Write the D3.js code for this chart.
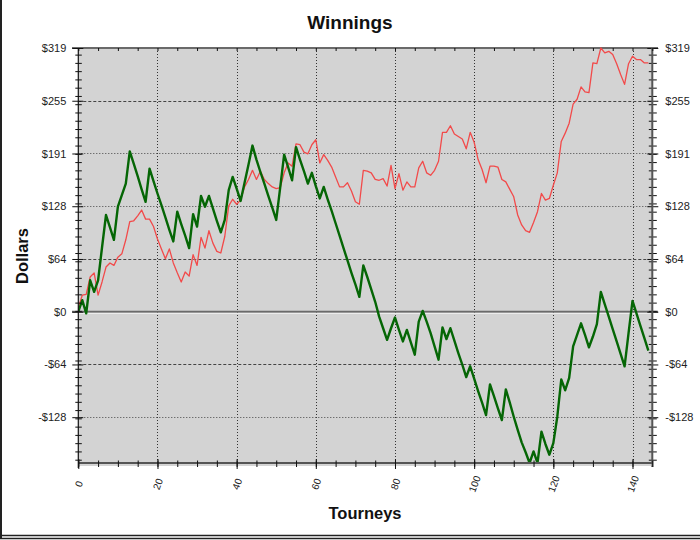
<!DOCTYPE html>
<html>
<head>
<meta charset="utf-8">
<script src="https://cdn.jsdelivr.net/npm/d3@7"></script>
<style>
  html, body { margin: 0; padding: 0; background: #fff; }
  svg { display: block; font-family: "Liberation Sans", Arial, sans-serif; }
</style>
</head>
<body>
<svg id="chart" width="700" height="540"></svg>
<script>
// ---------- data ----------
const tourneys = d3.range(0, 145); // 0..144
const greenSeries = [0,14,-2,38,24,38,78,117,102,87,127,141,155,194,179,164,148,133,173,158,
  143,129,114,99,85,121,106,92,77,118,103,140,127,140,125,110,96,111,147,163,
  149,134,156,178,201,184,169,155,140,126,111,150,190,175,159,199,184,170,155,168,
  152,137,151,136,122,107,92,77,62,47,33,18,56,42,27,12,-6,-20,-34,-20,
  -7,-22,-36,-22,-37,-52,-12,1,-12,-26,-42,-58,-19,-33,-20,-35,-50,-64,-79,-66,
  -81,-96,-110,-125,-88,-102,-117,-131,-94,-110,-127,-143,-158,-170,-183,-169,-183,-145,-160,-173,
  -159,-127,-82,-95,-80,-42,-28,-14,-28,-43,-30,-15,24,9,-6,-21,-36,-51,-66,-26,
  13,-2,-17,-32,-47];
const redSeries = [5,20,21,42,47,20,36,54,59,56,66,70,87,109,110,116,123,112,112,103,
  88,76,64,76,59,47,36,48,43,69,56,90,77,98,83,73,71,91,128,136,
  130,135,151,160,171,160,170,160,155,151,149,150,168,180,176,203,202,193,191,202,
  208,180,190,183,175,163,151,151,156,146,133,130,171,170,168,160,159,161,152,177,
  149,167,147,157,151,151,174,182,168,165,171,182,217,217,225,215,212,209,197,217,
  205,184,172,156,176,176,175,160,157,148,139,117,105,98,96,108,121,143,135,137,
  153,168,206,216,228,251,257,272,266,265,301,300,319,313,315,311,300,287,275,300,
  309,305,305,301,301];
const yTickValues = [-127.6, -63.8, 0, 63.8, 127.6, 191.4, 255.2, 319];
const yTickLabels = ["-$128", "-$64", "$0", "$64", "$128", "$191", "$255", "$319"];
const xTickValues = [0, 20, 40, 60, 80, 100, 120, 140];
const xTickLabels = ["0", "20", "40", "60", "80", "100", "120", "140"];
const titleText = "Winnings";
const xTitle = "Tourneys";
const yTitle = "Dollars";

// ---------- layout ----------
const svg = d3.select("#chart");
const L = 78.3, R = 652.3, T = 48, B = 463;
const x = d3.scaleLinear().domain([0, 145]).range([L, R]);
const y = d3.scaleLinear().domain([-183, 319]).range([B, T]);
const yMinor = d3.range(-179, 319, 10);
const xMinor = d3.range(0, 146, 5);
const fmtY = d => yTickLabels[yTickValues.indexOf(d)];
const fmtX = d => xTickLabels[xTickValues.indexOf(d)];

// outer frame (left + bottom)
svg.append("line").attr("x1", 1).attr("x2", 1).attr("y1", 0).attr("y2", 539)
  .attr("stroke", "#222").attr("stroke-width", 2);
svg.append("line").attr("x1", 0).attr("x2", 700).attr("y1", 535.5).attr("y2", 535.5)
  .attr("stroke", "#222").attr("stroke-width", 1.5);
svg.append("line").attr("x1", 0).attr("x2", 700).attr("y1", 538.5).attr("y2", 538.5)
  .attr("stroke", "#222").attr("stroke-width", 1.5);

// plot background
svg.append("rect").attr("x", L).attr("y", T).attr("width", R - L).attr("height", B - T)
  .attr("fill", "#d3d3d3");

// vertical grid
svg.append("g").selectAll("line").data(xTickValues.filter(d => d > 0)).join("line")
  .attr("x1", d => Math.round(x(d)) + 0.5).attr("x2", d => Math.round(x(d)) + 0.5)
  .attr("y1", T).attr("y2", B)
  .attr("stroke", "#333").attr("stroke-width", 1).attr("stroke-dasharray", "1,2");

// horizontal grid
const dashFor = {"-127.6": "1,2", "-63.8": "3,2", "63.8": "3,2", "127.6": "1,2", "191.4": "1,2", "255.2": "3,2"};
svg.append("g").selectAll("line").data(yTickValues.filter(d => d !== 0 && d !== 319)).join("line")
  .attr("x1", L).attr("x2", R)
  .attr("y1", d => Math.round(y(d)) + 0.5).attr("y2", d => Math.round(y(d)) + 0.5)
  .attr("stroke", "#444").attr("stroke-width", 1)
  .attr("stroke-dasharray", d => dashFor[String(d)]);

// zero line & top line (solid)
[0, 319].forEach(v => {
  const yy = y(v);
  svg.append("line").attr("x1", 72).attr("x2", 658).attr("y1", yy).attr("y2", yy)
    .attr("stroke", "#6a6a6a").attr("stroke-width", 2);
  if (v === 0) svg.append("line").attr("x1", L).attr("x2", R).attr("y1", yy + 1.6).attr("y2", yy + 1.6)
    .attr("stroke", "#f2f2f2").attr("stroke-width", 1);
});

// ---------- series ----------
const line = d3.line().x((d, i) => x(tourneys[i])).y(d => y(d));
const clip = svg.append("clipPath").attr("id", "clip").append("rect")
  .attr("x", L).attr("y", T - 2).attr("width", R - L).attr("height", B - T + 2);
svg.append("path").datum(redSeries).attr("d", line).attr("fill", "none")
  .attr("stroke", "#f24a4a").attr("stroke-width", 1.3).attr("stroke-linejoin", "round")
  .attr("clip-path", "url(#clip)");
svg.append("path").datum(greenSeries).attr("d", line).attr("fill", "none")
  .attr("stroke", "#056605").attr("stroke-width", 2.4).attr("stroke-linejoin", "round")
  .attr("clip-path", "url(#clip)");

// ---------- axes ----------
function styleAxis(g) {
  g.select(".domain").remove();
  g.selectAll("text").attr("fill", "#222").style("font-size", "11px")
    .style("font-family", "'Liberation Sans', Arial, sans-serif");
  g.selectAll("line").attr("stroke", "#111");
}
// left minor
svg.append("g").attr("transform", `translate(${L},0)`)
  .call(d3.axisLeft(y).tickValues(yMinor).tickFormat("").tickSize(3))
  .call(styleAxis).selectAll(".tick line").attr("x1", 3.5);
// left major
const gl = svg.append("g").attr("transform", `translate(${L},0)`)
  .call(d3.axisLeft(y).tickValues(yTickValues).tickFormat(fmtY).tickSize(6).tickPadding(6))
  .call(styleAxis);
gl.selectAll(".tick line").attr("x1", 5);
svg.append("line").attr("x1", L).attr("x2", L).attr("y1", T).attr("y2", B + 5)
  .attr("stroke", "#111").attr("stroke-width", 1.2);

// right minor
svg.append("g").attr("transform", `translate(${R},0)`)
  .call(d3.axisRight(y).tickValues(yMinor).tickFormat("").tickSize(4.5))
  .call(styleAxis).selectAll(".tick line").attr("x1", -3.5);
// right major
const gr = svg.append("g").attr("transform", `translate(${R},0)`)
  .call(d3.axisRight(y).tickValues(yTickValues).tickFormat(fmtY).tickSize(6).tickPadding(7))
  .call(styleAxis);
gr.selectAll(".tick line").attr("x1", -5);
svg.append("line").attr("x1", R).attr("x2", R).attr("y1", T).attr("y2", B + 4)
  .attr("stroke", "#555").attr("stroke-width", 2);

// bottom line
svg.append("line").attr("x1", L).attr("x2", R).attr("y1", B).attr("y2", B)
  .attr("stroke", "#555").attr("stroke-width", 2);
svg.append("line").attr("x1", L).attr("x2", R).attr("y1", B + 2).attr("y2", B + 2)
  .attr("stroke", "#aaa").attr("stroke-width", 1);
// bottom minor
svg.append("g").attr("transform", `translate(0,${B})`)
  .call(d3.axisBottom(x).tickValues(xMinor).tickFormat("").tickSize(4))
  .call(styleAxis).selectAll(".tick line").attr("y1", -2.5);
// bottom major
const gb = svg.append("g").attr("transform", `translate(0,${B})`)
  .call(d3.axisBottom(x).tickValues(xTickValues).tickFormat(fmtX).tickSize(6))
  .call(styleAxis);
gb.selectAll(".tick line").attr("y1", -4);
gb.selectAll(".tick text").attr("y", 0).attr("dy", "0.35em")
  .attr("text-anchor", "middle").style("font-size", "10px")
  .attr("transform", "translate(0,21) rotate(-70)");
// top minor ticks
svg.append("g").attr("transform", `translate(0,${T})`)
  .call(d3.axisTop(x).tickValues(xMinor).tickFormat("").tickSize(3))
  .call(styleAxis).selectAll(".tick line").attr("y2", 3).attr("y1", 0);

// ---------- titles ----------
svg.append("text").attr("x", 350).attr("y", 29).attr("text-anchor", "middle")
  .style("font-size", "19px").style("font-weight", "bold").attr("fill", "#111").text(titleText);
svg.append("text").attr("x", 365).attr("y", 519).attr("text-anchor", "middle")
  .style("font-size", "16.5px").style("font-weight", "bold").attr("fill", "#111").text(xTitle);
svg.append("text").attr("transform", "translate(28,256) rotate(-90)").attr("text-anchor", "middle")
  .style("font-size", "16.5px").style("font-weight", "bold").attr("fill", "#111").text(yTitle);
</script>
</body>
</html>
